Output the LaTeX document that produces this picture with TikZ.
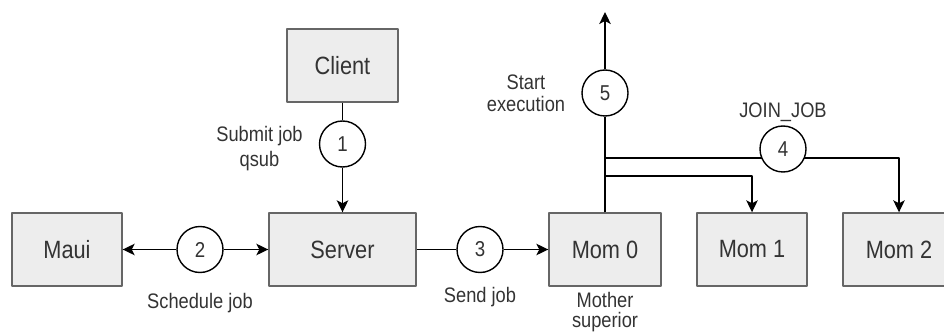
\documentclass[tikz,border=0pt]{standalone}
\usepackage{fontspec}
\setmainfont{Liberation Sans}[FakeStretch=0.87]
\usetikzlibrary{arrows.meta}
\begin{document}
\begin{tikzpicture}[x=1pt,y=1pt,line join=round,
  box/.style={draw=black!60,fill=black!7,line width=1.4pt,minimum height=73pt,
    text=black!80,font=\fontsize{25}{30}\selectfont},
  num/.style={circle,draw,fill=white,line width=1.4pt,minimum size=46pt,inner sep=0pt,
    text=black!80,font=\fontsize{21.5}{26}\selectfont},
  lbl/.style={align=center,text=black!80,font=\fontsize{21}{21.5}\selectfont},
  link/.style={line width=1.4pt},
  flow/.style={line width=1.4pt,-{Stealth[length=12pt,width=11.5pt,inset=3pt]}}]
\useasboundingbox (0,0) rectangle (944,332);
% machines
\node[box,minimum width=111pt] (client) at (342.5,266.5) {Client};
\node[box,minimum width=110pt] (maui) at (67,82.5) {Maui};
\node[box,minimum width=147pt] (server) at (342.5,82.5) {Server};
\node[box,minimum width=112pt] (mom0) at (605,82.5) {Mom 0};
\node[box,minimum width=110pt] (mom1) at (752,82.5) {Mom 1};
\node[box,minimum width=112pt] (mom2) at (899,82.5) {Mom 2};
% steps
\node[num] (s1) at (342.5,188) {1};
\node[num] (s2) at (200,82.5) {2};
\node[num] (s3) at (480,82.5) {3};
\node[num] (s5) at (605,239) {5};
\coordinate (top) at (605,320);
\coordinate (j1) at (605,174);
\coordinate (j2) at (605,156);
\draw[link] (client) -- (s1);
\draw[flow] (s1) -- (server);
\draw[flow] (s2) -- (maui);
\draw[flow] (s2) -- (server);
\draw[link] (server) -- (s3);
\draw[flow] (s3) -- (mom0);
\draw[link] (mom0) -- (s5);
\draw[flow] (s5) -- (top);
\draw[flow] (mom0.north) -- (j1) -| (mom2);
\draw[flow] (j2) -| (mom1);
\node[num] (s4) at (783,183) {4};
% labels
\node[lbl,font=\fontsize{21}{25}\selectfont] (submit) at (259.5,183) {Submit job\\qsub};
\node[lbl,anchor=base] (sched) at (200,23.7) {Schedule job};
\node[lbl,anchor=base] (send) at (480,30) {Send job};
\node[lbl] (start) at (526,238.6) {Start\\execution};
\node[lbl,anchor=base] (join) at (783,214.7) {JOIN\_JOB};
\node[lbl,font=\fontsize{21}{20}\selectfont] (mother) at (605,19.5) {Mother\\superior};
\end{tikzpicture}
\end{document}
